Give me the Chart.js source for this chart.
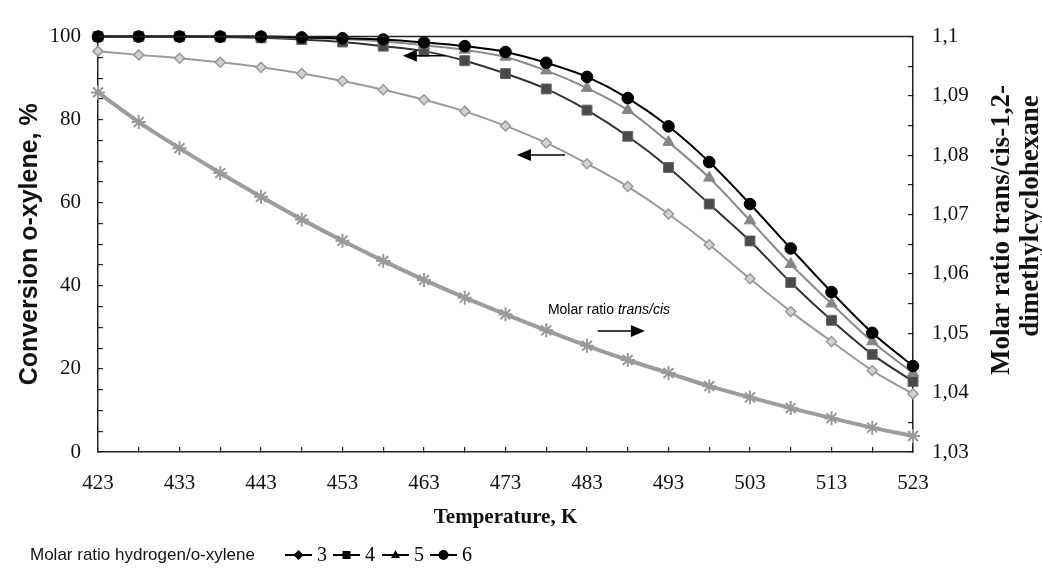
<!DOCTYPE html>
<html lang="en">
<head>
<meta charset="UTF-8">
<title>Conversion of o-xylene vs temperature</title>
<script src="https://cdn.jsdelivr.net/npm/chart.js"></script>
<style>
  html, body { margin: 0; padding: 0; background: #fff; }
  #wrap { width: 1042px; height: 573px; }
</style>
</head>
<body>
<div id="wrap"><canvas id="chart" width="1042" height="573"></canvas></div>
<script>
// temperature, K
const temperatures = [423, 428, 433, 438, 443, 448, 453, 458, 463, 468, 473, 478, 483, 488, 493, 498, 503, 508, 513, 518, 523];

// conversion of o-xylene, % (by molar ratio hydrogen/o-xylene)
const ratio3 = [96.5, 95.6, 94.8, 93.8, 92.6, 91.1, 89.3, 87.2, 84.8, 82.0, 78.5, 74.4, 69.4, 63.9, 57.3, 49.9, 41.7, 33.8, 26.6, 19.6, 14.0];
const ratio4 = [100, 100, 100, 99.9, 99.7, 99.3, 98.7, 97.7, 96.5, 94.2, 91.1, 87.4, 82.3, 76.0, 68.5, 59.7, 50.8, 40.8, 31.7, 23.5, 17.0];
const ratio5 = [100, 100, 100, 100, 99.9, 99.7, 99.4, 98.8, 97.9, 96.8, 95.1, 91.8, 87.6, 82.3, 74.6, 66.0, 55.7, 45.2, 35.7, 26.6, 19.0];
const ratio6 = [100, 100, 100, 100, 100, 99.8, 99.6, 99.3, 98.6, 97.7, 96.3, 93.7, 90.3, 85.2, 78.4, 69.8, 59.7, 49.0, 38.5, 28.7, 20.7];

// molar ratio trans/cis-1,2-dimethylcyclohexane (right axis)
const transCis = [1.0906, 1.0856, 1.0812, 1.0770, 1.0730, 1.0692, 1.0656, 1.0622, 1.0590, 1.0560, 1.0532, 1.0505, 1.0479, 1.0455, 1.0433, 1.0411, 1.0392, 1.0374, 1.0357, 1.0341, 1.0327];

const xTickLabels = [423, 433, 443, 453, 463, 473, 483, 493, 503, 513, 523];
const leftTickLabels = [0, 20, 40, 60, 80, 100];
const rightTickLabels = ['1,03', '1,04', '1,05', '1,06', '1,07', '1,08', '1,09', '1,1'];
const legendNames = ['3', '4', '5', '6'];

// arrows and note, in data units
const arrowNotes = [
  { from: 465.6, to: 460.4, y: 95.4 },
  { from: 480.3, to: 474.4, y: 71.5 },
  { from: 484.3, to: 490.1, y: 29.1 }
];
const noteAt = { x: 478.2, y: 34.1 };

const serif = "'Liberation Serif', 'Times New Roman', serif";
const sans = "'Liberation Sans', Arial, sans-serif";
const axisColor = '#222';

function pairs(values) {
  return values.map((v, i) => ({ x: temperatures[i], y: v }));
}

function drawMarker(ctx, style, x, y, r) {
  ctx.beginPath();
  if (style === 'circle') {
    ctx.arc(x, y, r, 0, Math.PI * 2);
  } else if (style === 'rect') {
    ctx.rect(x - r * 0.8, y - r * 0.8, r * 1.6, r * 1.6);
  } else if (style === 'rectRot') {
    ctx.moveTo(x, y - r); ctx.lineTo(x + r, y); ctx.lineTo(x, y + r); ctx.lineTo(x - r, y);
    ctx.closePath();
  } else if (style === 'triangle') {
    ctx.moveTo(x, y - r); ctx.lineTo(x + r * 0.9, y + r * 0.6); ctx.lineTo(x - r * 0.9, y + r * 0.6);
    ctx.closePath();
  }
  ctx.fill();
}

function arrow(ctx, x0, x1, y) {
  const dir = x1 < x0 ? -1 : 1;
  ctx.strokeStyle = '#000';
  ctx.fillStyle = '#000';
  ctx.lineWidth = 1.5;
  ctx.beginPath();
  ctx.moveTo(x0, y);
  ctx.lineTo(x1 - dir * 10, y);
  ctx.stroke();
  ctx.beginPath();
  ctx.moveTo(x1, y);
  ctx.lineTo(x1 - dir * 14, y - 6);
  ctx.lineTo(x1 - dir * 14, y + 6);
  ctx.closePath();
  ctx.fill();
}

const decor = {
  id: 'decor',
  afterDatasetsDraw(chart) {
    const ctx = chart.ctx;
    const xs = chart.scales.x, ys = chart.scales.y;
    ctx.save();
    arrowNotes.forEach(a => {
      arrow(ctx, xs.getPixelForValue(a.from), xs.getPixelForValue(a.to), ys.getPixelForValue(a.y));
    });
    // note text
    const nx = xs.getPixelForValue(noteAt.x), ny = ys.getPixelForValue(noteAt.y);
    ctx.fillStyle = '#000';
    ctx.textBaseline = 'middle';
    ctx.textAlign = 'left';
    ctx.font = '14px ' + sans;
    ctx.fillText('Molar ratio ', nx, ny);
    const w = ctx.measureText('Molar ratio ').width;
    ctx.font = 'italic 14px ' + sans;
    ctx.fillText('trans/cis', nx + w, ny);
    ctx.restore();
  },
  afterDraw(chart) {
    const ctx = chart.ctx;
    const area = chart.chartArea;
    ctx.save();
    // top frame line
    ctx.strokeStyle = axisColor;
    ctx.lineWidth = 1.5;
    ctx.beginPath();
    ctx.moveTo(area.left, area.top);
    ctx.lineTo(area.right, area.top);
    ctx.stroke();

    // right axis title, reads bottom to top
    ctx.fillStyle = '#111';
    ctx.font = 'bold 27px ' + serif;
    ctx.textAlign = 'center';
    ctx.textBaseline = 'middle';
    [['Molar ratio trans/cis-1,2-', 1002, 230], ['dimethylcyclohexane', 1031, 216]].forEach(([t, x, y]) => {
      ctx.save();
      ctx.translate(x, y);
      ctx.rotate(-Math.PI / 2);
      ctx.fillText(t, 0, 0);
      ctx.restore();
    });

    // legend
    const ly = 555;
    ctx.textAlign = 'left';
    ctx.font = '17px ' + sans;
    ctx.fillStyle = '#111';
    ctx.fillText('Molar ratio hydrogen/o-xylene', 30, ly);
    const styles = ['rectRot', 'rect', 'triangle', 'circle'];
    const starts = [285, 333, 382, 430];
    ctx.font = '20px ' + serif;
    styles.forEach((s, i) => {
      const x0 = starts[i];
      ctx.strokeStyle = '#000';
      ctx.lineWidth = 2;
      ctx.beginPath();
      ctx.moveTo(x0, ly);
      ctx.lineTo(x0 + 27, ly);
      ctx.stroke();
      ctx.fillStyle = '#000';
      drawMarker(ctx, s, x0 + 13.5, ly, 5);
      ctx.fillText(legendNames[i], x0 + 32, ly + 1);
    });
    ctx.restore();
  }
};

function fixWidth(w) { return scale => { scale.width = w; }; }

const tickGrid = { drawOnChartArea: false, drawTicks: true, tickLength: -5, color: axisColor, lineWidth: 1.2 };
const border = { display: true, color: axisColor, width: 1.5 };

new Chart(document.getElementById('chart'), {
  type: 'line',
  data: {
    datasets: [
      {
        label: '3', data: pairs(ratio3), yAxisID: 'y', order: 3,
        borderColor: '#9a9a9a', borderWidth: 2,
        pointStyle: 'rectRot', pointRadius: 5, pointBackgroundColor: '#d2d2d2',
        pointBorderColor: '#999', pointBorderWidth: 1.5
      },
      {
        label: '4', data: pairs(ratio4), yAxisID: 'y', order: 2,
        borderColor: '#333', borderWidth: 2,
        pointStyle: 'rect', pointRadius: 7, pointBackgroundColor: '#4a4a4a',
        pointBorderColor: '#666', pointBorderWidth: 1
      },
      {
        label: '5', data: pairs(ratio5), yAxisID: 'y', order: 1,
        borderColor: '#8a8a8a', borderWidth: 2,
        pointStyle: 'triangle', pointRadius: 6.5, pointBackgroundColor: '#858585',
        pointBorderColor: '#858585', pointBorderWidth: 1
      },
      {
        label: '6', data: pairs(ratio6), yAxisID: 'y', order: 0,
        borderColor: '#000', borderWidth: 2,
        pointStyle: 'circle', pointRadius: 5.8, pointBackgroundColor: '#000',
        pointBorderColor: '#000', pointBorderWidth: 1
      },
      {
        label: 'trans/cis', data: pairs(transCis), yAxisID: 'y1', order: 4,
        borderColor: '#9c9c9c', borderWidth: 4,
        pointStyle: 'star', pointRadius: 7, pointBackgroundColor: '#999',
        pointBorderColor: '#999', pointBorderWidth: 2
      }
    ]
  },
  options: {
    responsive: false,
    animation: false,
    devicePixelRatio: 1,
    clip: false,
    elements: { line: { cubicInterpolationMode: 'monotone', fill: false } },
    layout: { padding: { top: 21.5, bottom: 41, left: 0, right: 0 } },
    plugins: { legend: { display: false }, tooltip: { enabled: false } },
    scales: {
      x: {
        type: 'linear', min: 423, max: 523,
        afterBuildTicks: s => { s.ticks = temperatures.map(v => ({ value: v })); },
        afterFit: s => { s.height = 80; },
        grid: tickGrid, border: border,
        ticks: {
          autoSkip: false, maxRotation: 0, padding: 24, color: '#111',
          font: { family: serif, size: 21 },
          callback: v => xTickLabels.includes(v) ? String(v) : ''
        },
        title: {
          display: true, text: 'Temperature, K', color: '#111',
          font: { family: serif, size: 21, weight: 'bold' },
          padding: { top: 0, bottom: 2 }
        }
      },
      y: {
        position: 'left', min: 0, max: 100,
        afterFit: fixWidth(98),
        grid: tickGrid, border: border,
        ticks: {
          stepSize: 5, autoSkip: false, padding: 22, color: '#111',
          font: { family: serif, size: 21 },
          callback: v => leftTickLabels.includes(v) ? String(v) : ''
        },
        title: {
          display: true, text: 'Conversion o-xylene, %', color: '#111',
          font: { family: sans, size: 25, weight: 'bold' },
          padding: { top: 15, bottom: 0 }
        }
      },
      y1: {
        position: 'right', min: 1.03, max: 1.1,
        afterBuildTicks: s => {
          const t = [];
          for (let k = 0; k <= 14; k++) t.push({ value: Math.round((1.03 + k * 0.005) * 1000) / 1000 });
          s.ticks = t;
        },
        afterFit: fixWidth(129),
        grid: tickGrid, border: border,
        ticks: {
          autoSkip: false, padding: 24, color: '#111',
          font: { family: serif, size: 21 },
          callback: v => {
            const k = Math.round((v - 1.03) * 1000);
            return k % 10 === 0 ? rightTickLabels[k / 10] : '';
          }
        }
      }
    }
  },
  plugins: [decor]
});
</script>
</body>
</html>
